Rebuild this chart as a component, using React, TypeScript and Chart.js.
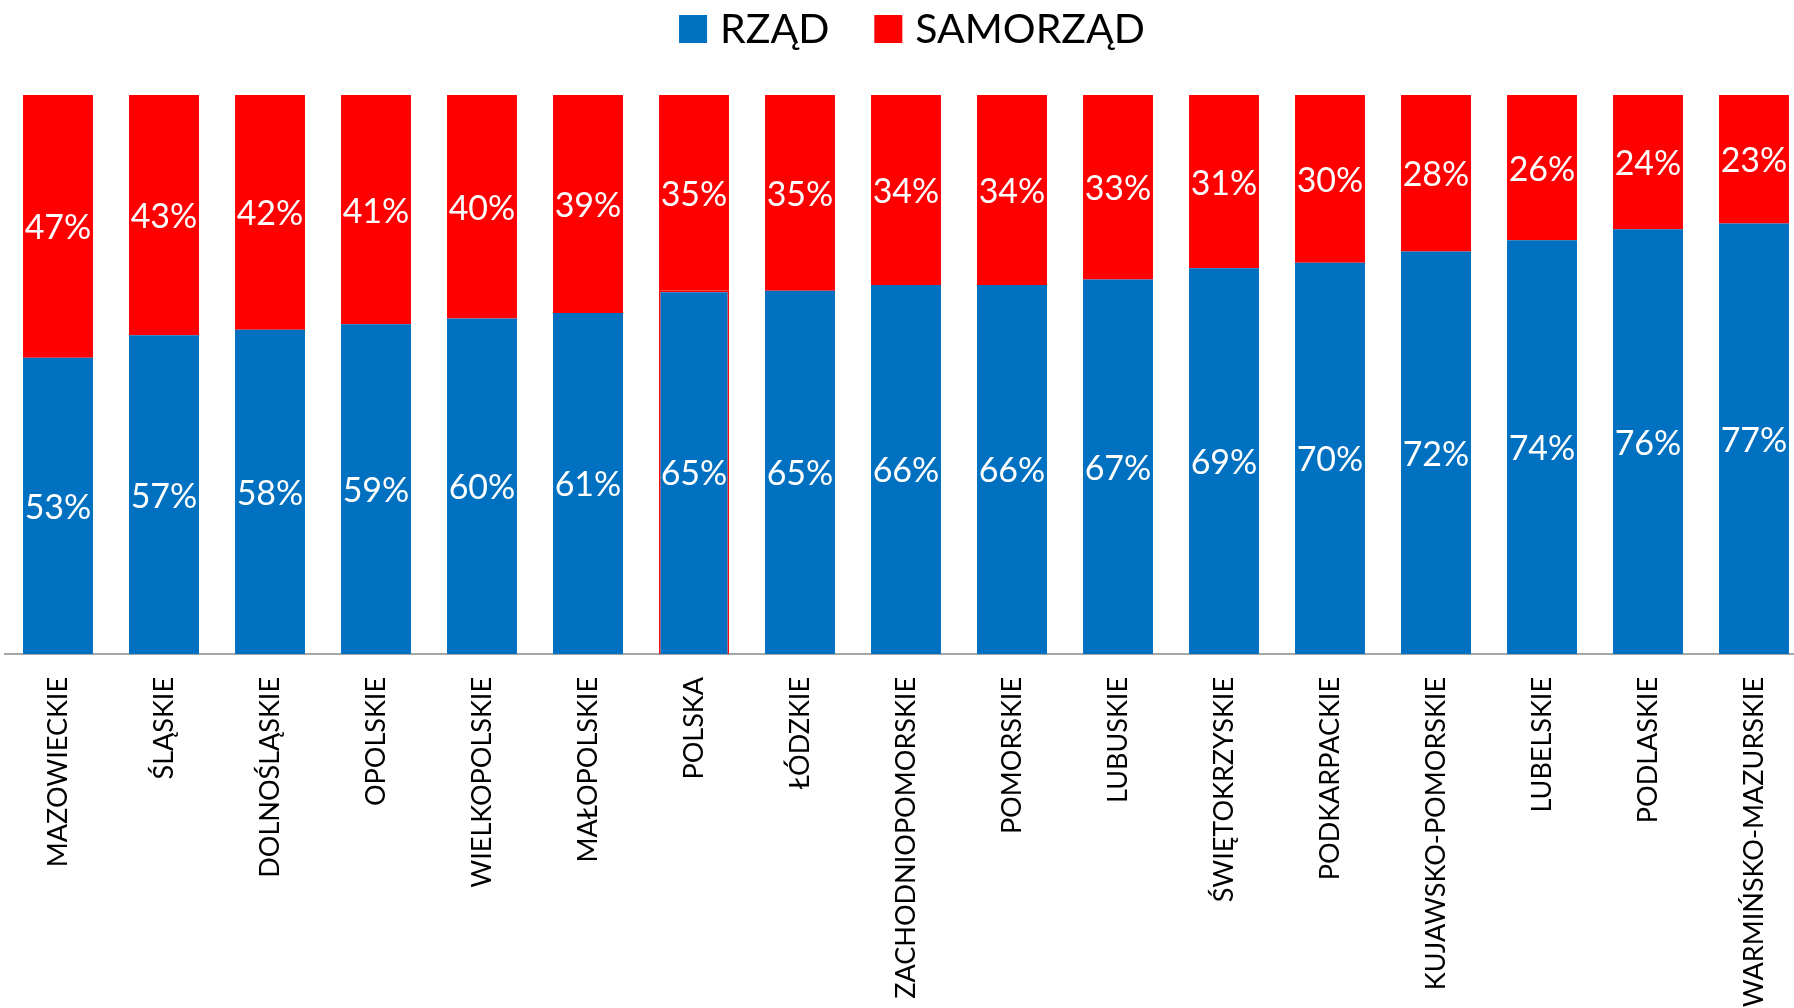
import React, { useEffect, useRef } from "react";
import { Chart, registerables } from "chart.js";

Chart.register(...registerables);

const categories = [
  "MAZOWIECKIE", "ŚLĄSKIE", "DOLNOŚLĄSKIE", "OPOLSKIE", "WIELKOPOLSKIE", "MAŁOPOLSKIE",
  "POLSKA", "ŁÓDZKIE", "ZACHODNIOPOMORSKIE", "POMORSKIE", "LUBUSKIE", "ŚWIĘTOKRZYSKIE",
  "PODKARPACKIE", "KUJAWSKO-POMORSKIE", "LUBELSKIE", "PODLASKIE", "WARMIŃSKO-MAZURSKIE",
];
const rzad = [53, 57, 58, 59, 60, 61, 65, 65, 66, 66, 67, 69, 70, 72, 74, 76, 77];
const samorzad = [47, 43, 42, 41, 40, 39, 35, 35, 34, 34, 33, 31, 30, 28, 26, 24, 23];
const seriesNames = ["RZĄD", "SAMORZĄD"];
const seriesColors = ["#0070C0", "#FF0000"];
const highlighted = "POLSKA";

const FONT = "Lato, 'Noto Sans', sans-serif";

const labelPlugin = {
  id: "centerLabels",
  afterDatasetsDraw(chart: any) {
    const ctx = chart.ctx;
    ctx.save();
    ctx.fillStyle = "#ffffff";
    ctx.font = `34px ${FONT}`;
    ctx.textAlign = "center";
    ctx.textBaseline = "middle";
    chart.data.datasets.forEach((ds: any, di: number) => {
      const meta = chart.getDatasetMeta(di);
      meta.data.forEach((el: any, i: number) => {
        const cy = (el.y + el.base) / 2;
        ctx.fillText(`${ds.data[i]}%`, el.x, cy + 2);
      });
    });
    ctx.restore();
  },
};

const legendPlugin = {
  id: "topLegend",
  afterDraw(chart: any) {
    const ctx = chart.ctx;
    ctx.save();
    ctx.font = `41px ${FONT}`;
    const box = 28;
    const gapBoxText = 13;
    const gapItems = 45;
    const items = chart.data.datasets.map((ds: any) => ({
      label: ds.label,
      color: ds.backgroundColor,
      w: ctx.measureText(ds.label).width,
    }));
    let total = 0;
    items.forEach((it: any, i: number) => {
      total += box + gapBoxText + it.w + (i < items.length - 1 ? gapItems : 0);
    });
    let x = 912 - total / 2;
    const boxTop = 15;
    const baseline = 43;
    items.forEach((it: any) => {
      ctx.fillStyle = it.color;
      ctx.fillRect(x, boxTop, box, box);
      x += box + gapBoxText;
      ctx.fillStyle = "#000000";
      ctx.textAlign = "left";
      ctx.textBaseline = "alphabetic";
      ctx.fillText(it.label, x, baseline);
      x += it.w + gapItems;
    });
    ctx.restore();
  },
};

export default function App() {
  const ref = useRef<HTMLCanvasElement | null>(null);
  useEffect(() => {
    if (!ref.current) return;
    const chart = new Chart(ref.current, {
      type: "bar",
      data: {
        labels: categories,
        datasets: [
          {
            label: seriesNames[0],
            data: rzad,
            backgroundColor: seriesColors[0],
            borderColor: categories.map((c) => (c === highlighted ? "#FF0000" : seriesColors[0])),
            borderWidth: categories.map((c) => (c === highlighted ? 1.5 : 0)),
            barPercentage: 0.66,
            categoryPercentage: 1,
          },
          {
            label: seriesNames[1],
            data: samorzad,
            backgroundColor: seriesColors[1],
            borderWidth: 0,
            barPercentage: 0.66,
            categoryPercentage: 1,
          },
        ],
      },
      options: {
        responsive: false,
        animation: false,
        layout: { padding: { left: 5, right: 5, top: 95, bottom: 0 } },
        plugins: {
          tooltip: { enabled: false },
          legend: { display: false },
        },
        scales: {
          x: {
            stacked: true,
            grid: { display: false, drawTicks: false },
            border: { display: true, color: "#A6A6A6", width: 2 },
            ticks: {
              autoSkip: false,
              maxRotation: 90,
              minRotation: 90,
              padding: 23,
              color: "#000000",
              font: { family: FONT, size: 27 },
            },
            afterFit: (s: any) => {
              s.height = 354;
            },
          },
          y: {
            stacked: true,
            display: false,
            min: 0,
            max: 100,
          },
        },
      },
      plugins: [labelPlugin, legendPlugin],
    });
    return () => chart.destroy();
  }, []);
  return (
    <div style={{ position: "fixed", left: 0, top: 0, width: 1794, height: 1008, overflow: "hidden", background: "#fff" }}>
      <canvas ref={ref} width={1812} height={1008} style={{ width: 1812, height: 1008, display: "block" }} />
    </div>
  );
}
